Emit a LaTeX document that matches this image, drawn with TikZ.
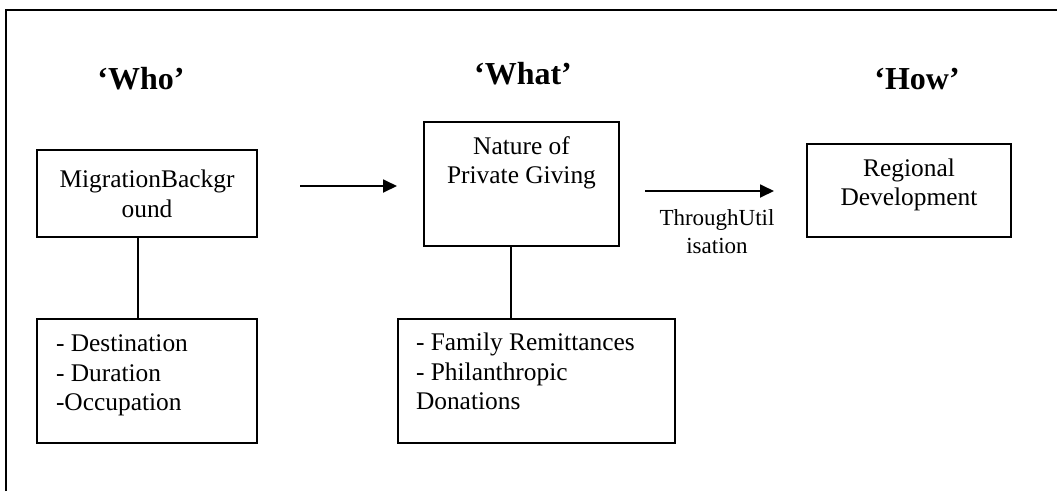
\documentclass[tikz,border=0pt]{standalone}
\usepackage{fontspec}
\setmainfont{Liberation Serif}
\usetikzlibrary{arrows.meta}
\begin{document}
\begin{tikzpicture}[x=1pt,y=-1pt,
  every node/.style={inner sep=0pt, outer sep=0pt},
  stroke/.style={line width=1.8pt, black},
  box/.style={draw, line width=1.8pt, rectangle},
  body/.style={font=\fontsize{25.4}{29.5}\selectfont},
  small/.style={font=\fontsize{23}{28}\selectfont},
  head/.style={font=\fontsize{32}{36}\selectfont\bfseries},
  arr/.style={stroke, -{Triangle[length=14pt,width=13pt]}}]
\useasboundingbox (0,0) rectangle (1057,491);
% frame (only top and left edges visible)
\coordinate (fbl) at (6,491);
\coordinate (ftl) at (6,10);
\coordinate (ftr) at (1057,10);
\draw[stroke] (fbl) -- (ftl) -- (ftr);
% headings
\node[head] (who) at (141,79) {‘Who’};
\node[head] (what) at (523,74) {‘What’};
\node[head] (how) at (917,79) {‘How’};
% boxes
\node[box, minimum width=220pt, minimum height=87pt] (b1) at (147,193.5) {};
\node[body, align=center] (t1) at (147,194) {MigrationBackgr\\ound};
\node[box, minimum width=220pt, minimum height=124pt] (b2) at (147,381) {};
\node[body, align=left, anchor=north west] (t2) at (56,335) {- Destination\\- Duration\\-Occupation};
\node[box, minimum width=195pt, minimum height=124pt] (b3) at (521.5,184) {};
\node[body, align=center] (t3) at (521.5,163) {Nature of\\Private Giving};
\node[box, minimum width=277pt, minimum height=124pt] (b4) at (536.5,381) {};
\node[body, align=left, anchor=north west] (t4) at (416,333) {- Family Remittances\\- Philanthropic\\Donations};
\node[box, minimum width=204pt, minimum height=93pt] (b5) at (909,190.5) {};
\node[body, align=center] (t5) at (909,185) {Regional\\Development};
% arrows
\coordinate (a1s) at (300,186);
\coordinate (a1e) at (397,186);
\draw[arr] (a1s) -- (a1e);
\coordinate (a2s) at (645,191);
\coordinate (a2e) at (774,191);
\draw[arr] (a2s) -- (a2e);
\node[small, align=center] (lab) at (717,232) {ThroughUtil\\isation};
% vertical connectors
\draw[stroke] (b1.south -| 138,0) -- (b2.north -| 138,0);
\draw[stroke] (b3.south -| 511,0) -- (b4.north -| 511,0);
\end{tikzpicture}
\end{document}
